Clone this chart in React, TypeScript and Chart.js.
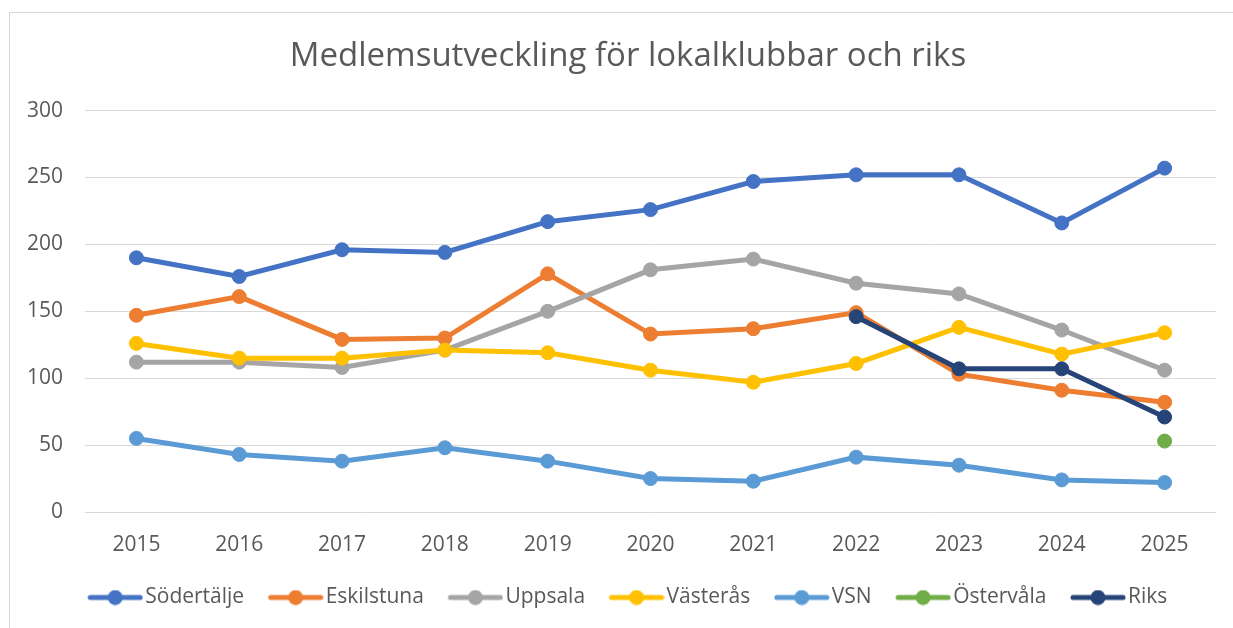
import React, { useEffect, useRef } from "react";
import { Chart, registerables } from "chart.js";

Chart.register(...registerables);

const years = ["2015", "2016", "2017", "2018", "2019", "2020", "2021", "2022", "2023", "2024", "2025"];
const sodertalje = [190, 176, 196, 194, 217, 226, 247, 252, 252, 216, 257];
const eskilstuna = [147, 161, 129, 130, 178, 133, 137, 149, 103, 91, 82];
const uppsala = [112, 112, 108, 121, 150, 181, 189, 171, 163, 136, 106];
const vasteras = [126, 115, 115, 121, 119, 106, 97, 111, 138, 118, 134];
const vsn = [55, 43, 38, 48, 38, 25, 23, 41, 35, 24, 22];
const ostervala = [null, null, null, null, null, null, null, null, null, null, 53];
const riks = [null, null, null, null, null, null, null, 146, 107, 107, 71];

const seriesNames = ["Södertälje", "Eskilstuna", "Uppsala", "Västerås", "VSN", "Östervåla", "Riks"];
const seriesValues = [sodertalje, eskilstuna, uppsala, vasteras, vsn, ostervala, riks];
const seriesColors = ["#4472C4", "#ED7D31", "#A5A5A5", "#FFC000", "#5B9BD5", "#70AD47", "#264478"];

const yTicks = [0, 50, 100, 150, 200, 250, 300];
const titleText = "Medlemsutveckling för lokalklubbar och riks";

const FONT = "'Open Sans', 'DejaVu Sans', sans-serif";
const TEXT = "#595959";

const LEGEND_FONT = 21;
const LEGEND_BOX = 46;
const IMG_W = 63;
const BOX_SHIFT = 15;

function legendImage(color: string) {
  const c = document.createElement("canvas");
  c.width = IMG_W;
  c.height = 16;
  const ctx = c.getContext("2d")!;
  ctx.strokeStyle = color;
  ctx.lineWidth = 5;
  ctx.lineCap = "round";
  const x0 = IMG_W - 56;
  ctx.beginPath();
  ctx.moveTo(x0 + 3, 8);
  ctx.lineTo(x0 + 53, 8);
  ctx.stroke();
  ctx.fillStyle = color;
  ctx.beginPath();
  ctx.arc(x0 + 28, 8, 7.5, 0, Math.PI * 2);
  ctx.fill();
  return c;
}

const shiftBoxes = {
  id: "shiftBoxes",
  afterLayout(chart: any) {
    for (const b of [chart.titleBlock, chart.legend]) {
      if (b) {
        b.left += BOX_SHIFT;
        b.right += BOX_SHIFT;
      }
    }
  },
};

export default function App() {
  const ref = useRef<HTMLCanvasElement>(null);

  useEffect(() => {
    if (!ref.current) return;
    const images = seriesColors.map(legendImage);
    const chart = new Chart(ref.current, {
      type: "line",
      data: {
        labels: years,
        datasets: seriesNames.map((name, i) => ({
          label: name,
          data: seriesValues[i],
          borderColor: seriesColors[i],
          backgroundColor: seriesColors[i],
          pointBackgroundColor: seriesColors[i],
          pointBorderColor: seriesColors[i],
          borderWidth: 5,
          pointRadius: 7,
          pointBorderWidth: 1,
          tension: 0,
          fill: false,
          order: seriesNames.length - i,
        })),
      },
      plugins: [shiftBoxes],
      options: {
        animation: false,
        responsive: false,
        maintainAspectRatio: false,
        layout: { padding: { left: 0, right: 17, top: 0, bottom: 10 } },
        plugins: {
          title: {
            display: true,
            text: titleText,
            color: TEXT,
            font: { family: FONT, size: 33, weight: "normal" },
            padding: { top: 24, bottom: 34 },
          },
          legend: {
            position: "bottom",
            labels: {
              color: TEXT,
              font: { family: FONT, size: LEGEND_FONT },
              usePointStyle: true,
              pointStyleWidth: LEGEND_BOX,
              boxHeight: 16,
              padding: 25,
              generateLabels: (ch: any) =>
                ch.data.datasets.map((ds: any, i: number) => ({
                  text: ds.label,
                  fillStyle: seriesColors[i],
                  strokeStyle: seriesColors[i],
                  fontColor: TEXT,
                  lineWidth: 0,
                  pointStyle: images[i],
                  hidden: false,
                  datasetIndex: i,
                })),
            },
          },
          tooltip: { enabled: false },
        },
        scales: {
          x: {
            offset: true,
            grid: { display: false },
            border: { display: false },
            ticks: { color: TEXT, font: { family: FONT, size: 21 }, padding: 12, maxRotation: 0 },
            afterFit: (s: any) => {
              s.height = 50;
            },
          },
          y: {
            min: 0,
            max: 300,
            afterBuildTicks: (s: any) => {
              s.ticks = yTicks.map((v) => ({ value: v }));
            },
            afterFit: (s: any) => {
              s.width = 75;
            },
            grid: { color: "#D9D9D9", lineWidth: 1, drawTicks: false },
            border: { display: false },
            ticks: { color: TEXT, font: { family: FONT, size: 21 }, padding: 22 },
          },
        },
      },
    });
    return () => chart.destroy();
  }, []);

  return (
    <div
      style={{
        position: "absolute",
        left: 9,
        top: 12,
        width: 1224,
        height: 616,
        boxSizing: "border-box",
        borderTop: "1px solid #D9D9D9",
        borderLeft: "1px solid #D9D9D9",
        background: "#fff",
        overflow: "hidden",
      }}
    >
      <canvas ref={ref} width={1223} height={615} style={{ display: "block" }} />
    </div>
  );
}
